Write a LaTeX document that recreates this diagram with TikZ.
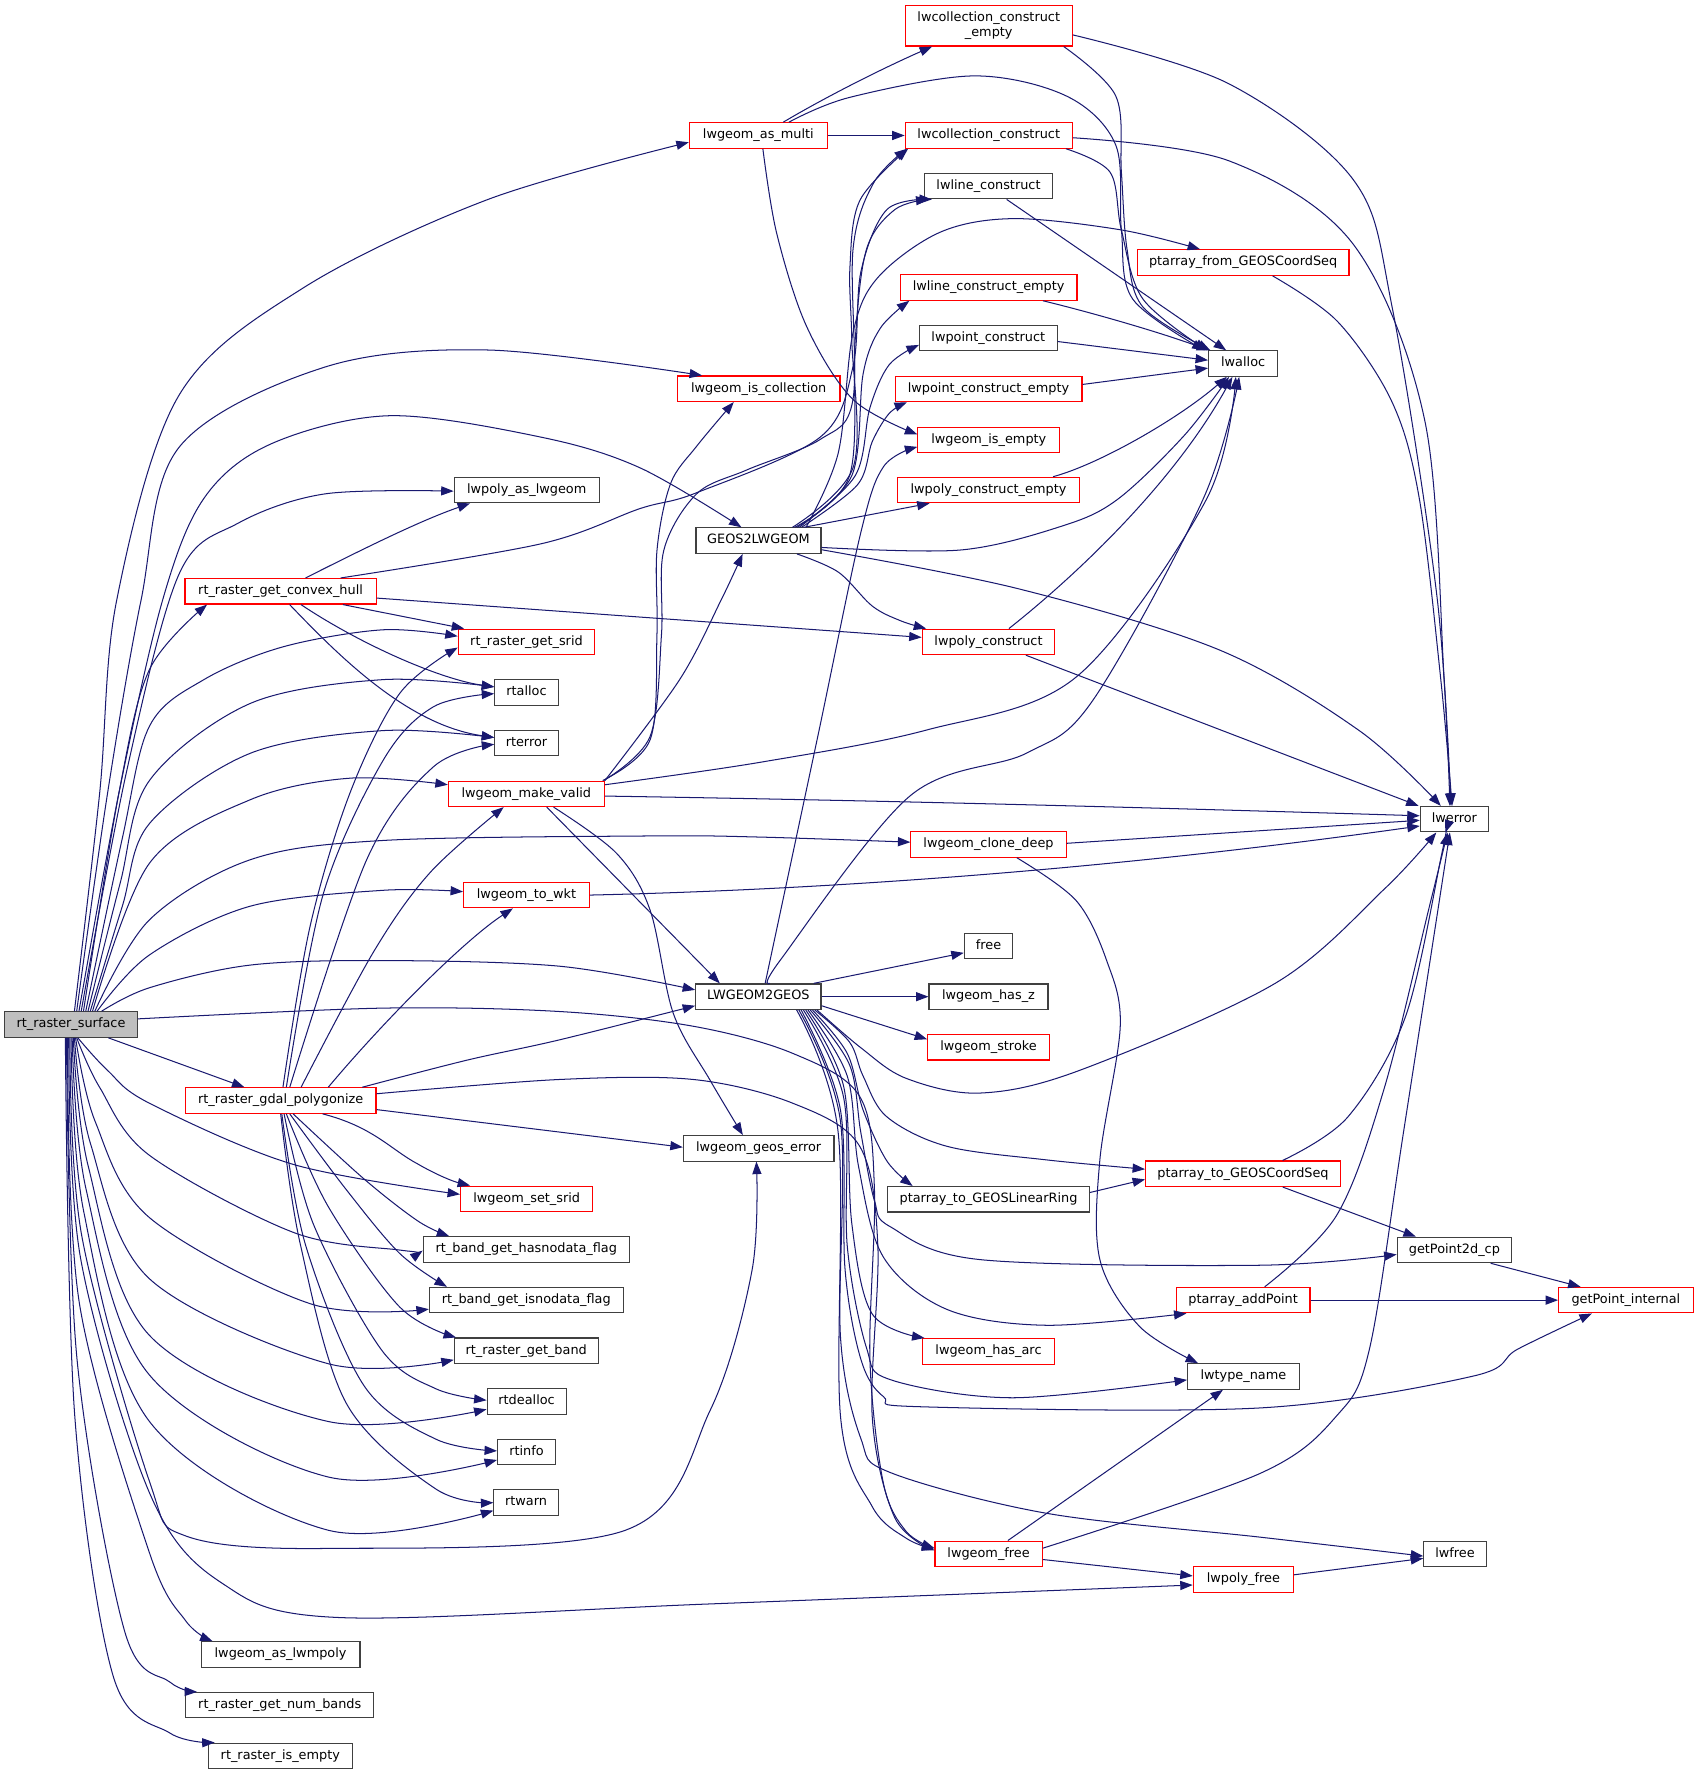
\documentclass[tikz,border=0pt]{standalone}
\usepackage{fontspec}
\setmainfont{DejaVu Sans}
\usetikzlibrary{arrows.meta}
\definecolor{ecol}{HTML}{191970}
\definecolor{kcol}{HTML}{404040}
\definecolor{rcol}{HTML}{FF0000}
\definecolor{gcol}{HTML}{BFBFBF}
\newcommand\dxfont{\fontsize{11.35}{13.3}\selectfont}
\begin{document}
\begin{tikzpicture}[x=1pt,y=-1pt,
  nbase/.style={rectangle, inner sep=0pt, minimum height=22.5pt, font=\dxfont, line width=1pt},
  onel/.style={nbase, text height=8.4pt, text depth=2.6pt},
  kbox/.style={onel, draw=kcol},
  rbox/.style={onel, draw=rcol},
  gbox/.style={onel, draw=kcol, fill=gcol},
  ed/.style={draw=ecol, line width=0.9pt, -{Triangle[length=11pt,width=8pt]}},
  sm/.style={smooth, tension=0.55}]
\fill[white] (0,0) rectangle (1500,1567.05);
\useasboundingbox (0,0) rectangle (1500,1567.05);

% ---------- nodes ----------
\node[gbox, minimum width=117pt] (s) at (62.7,904.5) {rt\_raster\_surface};
\node[rbox, minimum width=168.7pt] (ch) at (247.7,522) {rt\_raster\_get\_convex\_hull};
\node[rbox, minimum width=168.4pt] (gp) at (247.8,971.6) {rt\_raster\_gdal\_polygonize};
\node[kbox, minimum width=140.3pt] (aslwmpoly) at (247.7,1460.7) {lwgeom\_as\_lwmpoly};
\node[kbox, minimum width=166pt] (numbands) at (247,1505.4) {rt\_raster\_get\_num\_bands};
\node[kbox, minimum width=127pt] (isemptyr) at (247.5,1550.1) {rt\_raster\_is\_empty};

\node[kbox, minimum width=128pt] (polyaslw) at (465,432.6) {lwpoly\_as\_lwgeom};
\node[rbox, minimum width=120.4pt] (getsrid) at (464.8,566.7) {rt\_raster\_get\_srid};
\node[kbox, minimum width=56pt] (rtalloc) at (464.8,611.4) {rtalloc};
\node[kbox, minimum width=56pt] (rterror) at (464.8,656.1) {rterror};
\node[rbox, minimum width=137.7pt] (makevalid) at (464.7,700.8) {lwgeom\_make\_valid};
\node[rbox, minimum width=111pt] (towkt) at (464.8,790.2) {lwgeom\_to\_wkt};
\node[rbox, minimum width=116.7pt] (setsrid) at (465,1058.4) {lwgeom\_set\_srid};
\node[kbox, minimum width=182pt] (hasnodata) at (464.6,1103.1) {rt\_band\_get\_hasnodata\_flag};
\node[kbox, minimum width=171pt] (isnodata) at (464.6,1147.8) {rt\_band\_get\_isnodata\_flag};
\node[kbox, minimum width=127pt] (getband) at (464.6,1192.5) {rt\_raster\_get\_band};
\node[kbox, minimum width=69.7pt] (rtdealloc) at (464.9,1237.2) {rtdealloc};
\node[kbox, minimum width=51pt] (rtinfo) at (464.8,1281.9) {rtinfo};
\node[kbox, minimum width=56.7pt] (rtwarn) at (464.4,1326.6) {rtwarn};

\node[rbox, minimum width=121.8pt] (asmulti) at (669.5,119.6) {lwgeom\_as\_multi};
\node[rbox, minimum width=143.6pt] (iscoll) at (669.8,343.2) {lwgeom\_is\_collection};
\node[kbox, minimum width=110.3pt] (g2l) at (669.6,477.3) {GEOS2LWGEOM};
\node[kbox, minimum width=110.6pt] (l2g) at (669.5,879.9) {LWGEOM2GEOS};
\node[kbox, minimum width=133pt] (geoserr) at (669.8,1013.8) {lwgeom\_geos\_error};

\node[nbase, draw=rcol, align=center, minimum width=147.4pt, minimum height=35.6pt] (collempty) at (872.9,22.8) {lwcollection\_construct\\\_empty};
\node[rbox, minimum width=147.4pt] (coll) at (872.9,119.6) {lwcollection\_construct};
\node[kbox, minimum width=113.4pt] (line) at (872.7,164.3) {lwline\_construct};
\node[rbox, minimum width=156pt] (lineempty) at (872.8,253.8) {lwline\_construct\_empty};
\node[kbox, minimum width=121.5pt] (pointc) at (872.5,298.5) {lwpoint\_construct};
\node[rbox, minimum width=165pt] (pointempty) at (872.7,343.4) {lwpoint\_construct\_empty};
\node[rbox, minimum width=125.3pt] (isempty) at (873,388.5) {lwgeom\_is\_empty};
\node[rbox, minimum width=160.4pt] (polyempty) at (872.7,432.6) {lwpoly\_construct\_empty};
\node[rbox, minimum width=117pt] (polyc) at (872.7,566.7) {lwpoly\_construct};
\node[rbox, minimum width=137pt] (clonedeep) at (872.7,745.5) {lwgeom\_clone\_deep};
\node[kbox, minimum width=42.7pt] (free) at (872.7,835.2) {free};
\node[kbox, minimum width=105pt] (hasz) at (872.7,879.9) {lwgeom\_has\_z};
\node[rbox, minimum width=107.4pt] (stroke) at (872.7,924.5) {lwgeom\_stroke};
\node[kbox, minimum width=178pt] (linring) at (872.7,1058.8) {ptarray\_to\_GEOSLinearRing};
\node[rbox, minimum width=116pt] (hasarc) at (872.7,1193) {lwgeom\_has\_arc};
\node[rbox, minimum width=94.7pt] (lwgfree) at (872.8,1371.8) {lwgeom\_free};

\node[rbox, minimum width=187pt] (ptfrom) at (1097.5,231.8) {ptarray\_from\_GEOSCoordSeq};
\node[kbox, minimum width=61pt] (lwalloc) at (1097.5,321) {lwalloc};
\node[rbox, minimum width=172pt] (pttoseq) at (1097.4,1036.2) {ptarray\_to\_GEOSCoordSeq};
\node[rbox, minimum width=118pt] (addpoint) at (1097.5,1147.8) {ptarray\_addPoint};
\node[kbox, minimum width=98.5pt] (lwtype) at (1097.7,1215.2) {lwtype\_name};
\node[rbox, minimum width=88.4pt] (polyfree) at (1097.7,1394.3) {lwpoly\_free};

\node[kbox, minimum width=60.2pt] (lwerror) at (1284,723.2) {lwerror};
\node[kbox, minimum width=101pt] (getpt2d) at (1284,1103.5) {getPoint2d\_cp};
\node[kbox, minimum width=55pt] (lwfree) at (1284.5,1371.8) {lwfree};
\node[rbox, minimum width=118.7pt] (getptint) at (1435.4,1147.8) {getPoint\_internal};

% ---------- edges from rt_raster_surface (top) ----------
\draw[ed] plot[sm] coordinates {([xshift=3pt]s.north) (88,700) (103,530) (158,349) (268,254) (431,176) ([yshift=-6pt]asmulti.west)};
\draw[ed] plot[sm] coordinates {([xshift=5pt]s.north) (95,700) (124.5,530) (158,395) (287,324) (431,309) ([xshift=-50pt]iscoll.north)};
\draw[ed] plot[sm] coordinates {([xshift=7pt]s.north) (105,700) (143.5,530) (180,440) (239,392) (344,367) (478,386) (565,413) ([xshift=-15pt]g2l.north)};
\draw[ed] plot[sm] coordinates {([xshift=9pt]s.north) (112,680) (158,507) (210,462) (287,436) ([yshift=-1pt]polyaslw.west)};
\draw[ed] plot[sm] coordinates {([xshift=11pt]s.north) (105,700) (132,591) ([xshift=20pt]ch.south west)};
\draw[ed] plot[sm] coordinates {([xshift=13pt]s.north) (108,740) (132,641) (180,600) (250,571) (338,556) ([yshift=5pt]getsrid.west)};
\draw[ed] plot[sm] coordinates {([xshift=15pt]s.north) (106,780) (132,689) (221,621) (338,600) ([yshift=5pt]rtalloc.west)};
\draw[ed] plot[sm] coordinates {([xshift=17pt]s.north) (108,800) (132,727) (221,665) (338,645) ([yshift=5pt]rterror.west)};
\draw[ed] plot[sm] coordinates {([xshift=19pt]s.north) (132,762) (221,706) (309,687) ([yshift=8pt]makevalid.west)};
\draw[ed] plot[sm] coordinates {([xshift=21pt]s.north) (132,812) (221,759) (338,742) (574,738) (671,739) ([yshift=2pt]clonedeep.west)};
\draw[ed] plot[sm] coordinates {([xshift=23pt]s.north) (132,843) (221,800) (338,786) ([yshift=3pt]towkt.west)};
\draw[ed] plot[sm] coordinates {([xshift=27pt]s.north) (132,872) (221,852) (338,848) (494,853) ([yshift=6pt]l2g.west)};
\draw[ed] plot[sm] coordinates {([yshift=5pt]s.east) (338,890) (494,893) (612,906) (700,930) (759,968) (772,1050) (768,1200) (780,1310) (800,1352) ([yshift=5pt]lwgfree.west)};
\draw[ed] ([xshift=33pt]s.south) -- ([xshift=-32pt]gp.north);

% ---------- edges from rt_raster_surface (bottom) ----------
\draw[ed] plot[sm] coordinates {([xshift=6pt]s.south) (95,945) (132,974) (259,1028) ([yshift=4pt]setsrid.west)};
\draw[ed] plot[sm] coordinates {([xshift=5pt]s.south) (88,960) (132,1020) (259,1088) (353,1103.6) ([yshift=-1pt]hasnodata.west)};
\draw[ed] plot[sm] coordinates {([xshift=4pt]s.south) (84,990) (132,1075) (274,1151) ([yshift=-8pt]isnodata.west)};
\draw[ed] plot[sm] coordinates {([xshift=3pt]s.south) (80,1010) (132,1129) (290,1204) ([yshift=-8pt]getband.west)};
\draw[ed] plot[sm] coordinates {([xshift=2pt]s.south) (78,1030) (132,1179) (290,1255) ([yshift=-7pt]rtdealloc.west)};
\draw[ed] plot[sm] coordinates {([xshift=1pt]s.south) (76,1050) (132,1214) (290,1304) ([yshift=-7pt]rtinfo.west)};
\draw[ed] plot[sm] coordinates {(s.south) (74,1070) (132,1255) (290,1351) ([yshift=-7pt]rtwarn.west)};
\draw[ed] plot[sm] coordinates {([xshift=-1pt]s.south) (72,1090) (132,1308) (164,1356) (290,1367) (552,1351) (627,1245) (664,1121) ([xshift=-2pt]geoserr.south)};
\draw[ed] plot[sm] coordinates {([xshift=-2pt]s.south) (71,1110) (132,1318) (195,1397) (299,1428) (627,1416) ([yshift=-5pt]polyfree.west)};
\draw[ed] plot[sm] coordinates {([xshift=-3pt]s.south) (70,1150) (132,1371) (164,1431) ([xshift=-60pt]aslwmpoly.north)};
\draw[ed] plot[sm] coordinates {([xshift=-4pt]s.south) (68,1200) (110,1440) (150,1485) ([xshift=-73pt]numbands.north)};
\draw[ed] plot[sm] coordinates {([xshift=-5pt]s.south) (66,1250) (100,1480) (150,1530) ([xshift=-58pt]isemptyr.north)};

% ---------- rt_raster_get_convex_hull ----------
\draw[ed] ([xshift=22pt]ch.north) .. controls (320,485) and (370,460) .. ([xshift=-50pt]polyaslw.south);
\draw[ed] plot[sm] coordinates {([xshift=53pt]ch.north) (478,480) (565,449) (615,435) (724,386) (753,324) (760,240) (783,185) ([xshift=-50pt]line.south)};
\draw[ed] ([xshift=55pt]ch.south) -- ([xshift=-55pt]getsrid.north);
\draw[ed] ([xshift=18pt]ch.south) .. controls (320,570) and (390,600) .. ([yshift=5pt]rtalloc.west);
\draw[ed] ([xshift=8pt]ch.south) .. controls (300,580) and (360,640) .. ([yshift=5pt]rterror.west);
\draw[ed] ([yshift=-6pt]ch.east) -- ([yshift=4pt]polyc.west);

% ---------- rt_raster_gdal_polygonize ----------
\draw[ed] plot[sm] coordinates {([xshift=2pt]gp.north) (273.7,818) (309,700) (353,612) ([yshift=-5pt]getsrid.west)};
\draw[ed] plot[sm] coordinates {([xshift=5pt]gp.north) (285.6,788.5) (338.4,671) (382.6,624) ([yshift=-1pt]rtalloc.west)};
\draw[ed] plot[sm] coordinates {([xshift=8pt]gp.north) (323.7,759) (382.6,677) ([yshift=-1pt]rterror.west)};
\draw[ed] plot[sm] coordinates {([xshift=18pt]gp.north) (330,840) (380,770) ([xshift=-20pt]makevalid.south)};
\draw[ed] ([xshift=42pt]gp.north) .. controls (340,900) and (410,830) .. ([xshift=-12pt]towkt.south);
\draw[ed] plot[sm] coordinates {([xshift=72pt]gp.north) (412,936) (494,918) ([yshift=-8pt]l2g.west)};
\draw[ed] ([yshift=-8pt]gp.east) -- ([yshift=1pt]geoserr.west);
\draw[ed] plot[sm] coordinates {([yshift=6pt]gp.east) (494,953) (612,953) (700,974) (759,1012) (775,1100) (770,1250) (790,1340) ([yshift=3pt]lwgfree.west)};
\draw[ed] ([xshift=37pt]gp.south) .. controls (330,995) and (345,1015) .. (369,1027.7) .. controls (385,1037) and (400,1043) .. ([xshift=-50pt]setsrid.north);
\draw[ed] plot[sm] coordinates {([xshift=11pt]gp.south) (321,1040.5) (369,1078) ([xshift=-68pt]hasnodata.north)};
\draw[ed] plot[sm] coordinates {([xshift=8pt]gp.south) (305.5,1050) (353,1106.7) ([xshift=-70pt]isnodata.north)};
\draw[ed] plot[sm] coordinates {([xshift=5pt]gp.south) (290,1065.6) (353,1154) ([xshift=-62pt]getband.north)};
\draw[ed] plot[sm] coordinates {([xshift=3pt]gp.south) (277,1081.5) (337,1192) (384.7,1226) ([yshift=1pt]rtdealloc.west)};
\draw[ed] plot[sm] coordinates {([xshift=1pt]gp.south) (270,1100) (321.4,1223.4) (384.7,1270.5) ([yshift=1pt]rtinfo.west)};
\draw[ed] plot[sm] coordinates {(gp.south) (264.9,1097.4) (305.8,1239) (384.7,1314.5) (rtwarn.west)};

% ---------- lwgeom_as_multi ----------
\draw[ed] ([xshift=22pt]asmulti.north) .. controls (730,85) and (780,60) .. ([xshift=-50pt]collempty.south);
\draw[ed] plot[sm] coordinates {([xshift=27pt]asmulti.north) (750,86) (860,67) (942,85) (985,128) (990,203) (1000,264) ([xshift=-3pt]lwalloc.north west)};
\draw[ed] (asmulti.east) -- (coll.west);
\draw[ed] plot[sm] coordinates {([xshift=4pt]asmulti.south) (685.7,206) (712.2,288.4) (753.4,353) ([yshift=5pt]isempty.west)};

% ---------- lwcollection_construct(_empty) ----------
\draw[ed] plot[sm] coordinates {([xshift=-6pt]coll.south east) (980,152) (990,203) (1009,264) ([xshift=-1pt]lwalloc.north west)};
\draw[ed] plot[sm] coordinates {([yshift=-2pt]coll.east) (1085,142) (1195,216) (1258,372) (1275,600) ([xshift=-3pt]lwerror.north)};
\draw[ed] plot[sm] coordinates {([xshift=-8pt]collempty.south east) (985,84.6) (990,152) (995,220) (1009,271) ([xshift=2pt]lwalloc.north west)};
\draw[ed] plot[sm] coordinates {([yshift=-8pt]collempty.east) (1085,74) (1195,159) (1229,271) (1269,530) ([xshift=-4pt]lwerror.north)};

% ---------- constructors -> lwalloc ----------
\draw[ed] ([xshift=16pt]line.south) -- ([xshift=-15pt]lwalloc.north);
\draw[ed] ([xshift=48pt]lineempty.south) .. controls (960,275) and (1020,292) .. ([xshift=1pt]lwalloc.north west);
\draw[ed] ([yshift=-3pt]pointc.east) -- ([yshift=3pt]lwalloc.west);
\draw[ed] ([yshift=4pt]pointempty.east) -- ([yshift=-4pt]lwalloc.west);
\draw[ed] ([xshift=57pt]polyempty.north) .. controls (970,410) and (1040,370) .. ([xshift=-14.5pt]lwalloc.south);
\draw[ed] ([xshift=18pt]polyc.north) .. controls (960,500) and (1040,420) .. ([xshift=-9.5pt]lwalloc.south);
\draw[ed] ([xshift=33pt]polyc.south) -- ([xshift=-1pt]lwerror.north west);
\draw[ed] plot[sm] coordinates {([xshift=26pt]ptfrom.south) (1181,284) (1229,355) (1253,440) (1272,600) ([xshift=-2pt]lwerror.north)};

% ---------- GEOS2LWGEOM ----------
\draw[ed] plot[sm] coordinates {([xshift=30pt]g2l.north) (753.4,412) (752,300) (750.4,235) (759.3,176.6) ([xshift=3pt]coll.south west)};
\draw[ed] plot[sm] coordinates {([xshift=32pt]g2l.north) (750,420) (755,300) (765,220) (790,185) ([xshift=-53pt]line.south)};
\draw[ed] plot[sm] coordinates {([xshift=34pt]g2l.north) (752,420) (762,330) (777,290) ([xshift=-70pt]lineempty.south)};
\draw[ed] plot[sm] coordinates {([xshift=36pt]g2l.north) (755,420) (768,360) (785,322) ([yshift=-6pt]pointc.west)};
\draw[ed] plot[sm] coordinates {([xshift=38pt]g2l.north) (757,428) (770,390) (785,365) ([xshift=-72pt]pointempty.south)};
\draw[ed] ([xshift=40pt]g2l.north) -- ([xshift=-52pt]polyempty.south);
\draw[ed] plot[sm] coordinates {([xshift=42pt]g2l.north) (740,400) (753,294) (775,245) (830,205) (895,193) (990,203) ([xshift=-38pt]ptfrom.north)};
\draw[ed] plot[sm] coordinates {([yshift=-6pt]g2l.east) (847.5,485.6) (935.8,465) (985.9,441.4) (1045,385) ([xshift=-12.5pt]lwalloc.south)};
\draw[ed] plot[sm] coordinates {([yshift=-8pt]g2l.east) (900,520) (1077,574) (1200,645) ([xshift=-12pt]lwerror.north)};
\draw[ed] plot[sm] coordinates {([xshift=34pt]g2l.south) (740,505) (770,535) (795,548) ([xshift=4pt]polyc.north west)};

% ---------- lwgeom_make_valid ----------
\draw[ed] plot[sm] coordinates {([xshift=-2pt]makevalid.north east) (574,653) (580,560) (580,486) (592,427) (615,394) ([xshift=-22pt]iscoll.south)};
\draw[ed] plot[sm] coordinates {([xshift=-1pt]makevalid.north east) (574,650) (584,560) (586,486) (615,436) (659,415) (724,388) (753,353) (753,221) (771,162) ([xshift=2pt]coll.south west)};
\draw[ed] plot[sm] coordinates {(makevalid.north east) (600,600) (636.5,530) ([xshift=-14pt]g2l.south)};
\draw[ed] plot[sm] coordinates {([yshift=8pt]makevalid.east) (671,673) (818,644.5) (950.5,597.4) (1065,441) ([xshift=-6.5pt]lwalloc.south)};
\draw[ed] ([yshift=-2pt]makevalid.east) .. controls (800,707) and (1050,714) .. ([yshift=3pt]lwerror.west);
\draw[ed] ([xshift=18pt]makevalid.south) -- ([xshift=-34pt]l2g.north);
\draw[ed] plot[sm] coordinates {([xshift=24pt]makevalid.south) (544.4,753.4) (573.9,803.4) (594.4,894.6) (626.8,953.5) ([xshift=-14pt]geoserr.north)};

% ---------- lwgeom_to_wkt / lwgeom_clone_deep ----------
\draw[ed] (towkt.east) .. controls (750,785) and (1000,765) .. ([yshift=-6pt]lwerror.west);
\draw[ed] ([yshift=1pt]clonedeep.east) -- ([yshift=-1pt]lwerror.west);
\draw[ed] plot[sm] coordinates {([xshift=25pt]clonedeep.south) (950,795) (977,848) (989,906) (971,1024) (971,1112) (1006,1171) ([xshift=-40pt]lwtype.north)};

% ---------- LWGEOM2GEOS ----------
\draw[ed] plot[sm] coordinates {([xshift=6pt]l2g.north) (722,650) (760,470) (780,412) ([yshift=-6pt]isempty.west)};
\draw[ed] plot[sm] coordinates {([xshift=10pt]l2g.north) (689,847.5) (803,703) (906,665) (965,618) (1062,441) ([xshift=-3.5pt]lwalloc.south)};
\draw[ed] ([xshift=-7pt]l2g.north east) -- ([yshift=-6pt]free.west);
\draw[ed] (l2g.east) -- (hasz.west);
\draw[ed] ([yshift=-8pt]l2g.east) -- ([yshift=7pt]stroke.west);
\draw[ed] plot[sm] coordinates {([xshift=-4pt]l2g.south east) (760,925) (800,952) (865,965) (953,945) (1126,868) (1222,785) ([xshift=-16pt]lwerror.south)};
\draw[ed] plot[sm] coordinates {([xshift=-6pt]l2g.south east) (750,920) (762,950) (783,986) (836,1012) (924,1024) ([yshift=4pt]pttoseq.west)};
\draw[ed] plot[sm] coordinates {([xshift=-8pt]l2g.south east) (748,930) (762,980) (783,1025) ([xshift=-67pt]linring.north)};
\draw[ed] plot[sm] coordinates {([xshift=-10pt]l2g.south east) (750,940) (760,1000) (772,1060) (786,1083) (865,1112) (1112,1117) ([yshift=-4pt]getpt2d.west)};
\draw[ed] plot[sm] coordinates {([xshift=-12pt]l2g.south east) (748,950) (758,1030) (780,1110) (836,1156) (924,1170) ([xshift=-50pt]addpoint.south)};
\draw[ed] plot[sm] coordinates {([xshift=-14pt]l2g.south east) (745,960) (752,1080) (770,1160) ([xshift=2pt]hasarc.north west)};
\draw[ed] plot[sm] coordinates {([xshift=-16pt]l2g.south east) (745,970) (748,1100) (765,1190) (786,1218) (894,1234) ([yshift=-3pt]lwtype.west)};
\draw[ed] plot[sm] coordinates {([xshift=-18pt]l2g.south east) (742,980) (746,1120) (760,1200) (780,1233) (815,1242) (1112,1243) (1300,1215) (1340,1191) ([xshift=-30pt]getptint.south)};
\draw[ed] plot[sm] coordinates {([xshift=-20pt]l2g.south east) (742,990) (742,1180) (760,1270) (786,1300) (924,1336) (1112,1357) ([yshift=-2pt]lwfree.west)};
\draw[ed] plot[sm] coordinates {([xshift=-22pt]l2g.south east) (740,1000) (742,1250) (770,1330) (800,1358) ([yshift=4pt]lwgfree.west)};

% ---------- lower right ----------
\draw[ed] ([yshift=6pt]linring.east) -- ([yshift=-5pt]pttoseq.west);
\draw[ed] ([xshift=35pt]pttoseq.south) -- ([xshift=-34pt]getpt2d.north);
\draw[ed] plot[sm] coordinates {([xshift=35pt]pttoseq.north) (1190,986) (1241,897) (1273,753) ([xshift=-8pt]lwerror.south)};
\draw[ed] (addpoint.east) -- (getptint.west);
\draw[ed] plot[sm] coordinates {([xshift=19pt]addpoint.north) (1180,1073) (1222,961) (1262,800) ([xshift=-6pt]lwerror.south)};
\draw[ed] ([xshift=32pt]getpt2d.south) -- ([xshift=-40pt]getptint.north);
\draw[ed] ([xshift=17pt]lwgfree.north) -- ([xshift=-18pt]lwtype.south);
\draw[ed] plot[sm] coordinates {([yshift=5pt]lwgfree.east) (1112,1301) (1180,1250) (1209,1191) (1239,1000) ([xshift=-4pt]lwerror.south)};
\draw[ed] ([yshift=-5pt]lwgfree.east) -- ([yshift=3pt]polyfree.west);
\draw[ed] ([yshift=4pt]polyfree.east) -- ([yshift=-4pt]lwfree.west);
\end{tikzpicture}
\end{document}
